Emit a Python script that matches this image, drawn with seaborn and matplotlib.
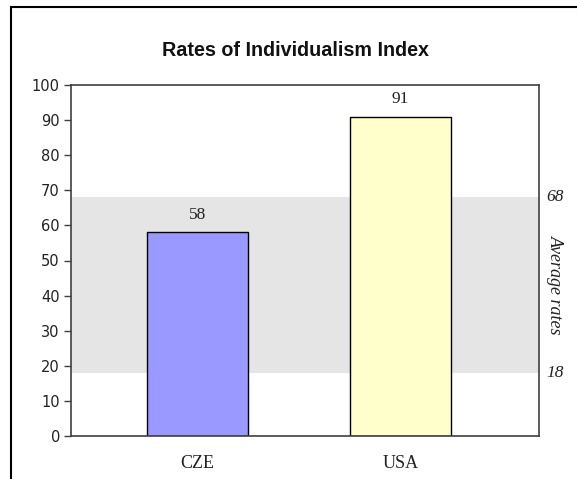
import matplotlib
matplotlib.use("Agg")
import matplotlib.pyplot as plt
import seaborn as sns
import pandas as pd
from matplotlib.patches import Rectangle
from matplotlib.transforms import blended_transform_factory

categories = ["CZE", "USA"]
values = [58, 91]
bar_colors = ["#9999FF", "#FFFFCC"]
band_low = 18
band_high = 68
band_label = "Average rates"
title = "Rates of Individualism Index"
yticks = [0, 10, 20, 30, 40, 50, 60, 70, 80, 90, 100]

sns.set_theme(style="white")
plt.rcParams['font.family'] = ['Liberation Sans', 'DejaVu Sans']

df = pd.DataFrame({"country": categories, "value": values})

fig = plt.figure(figsize=(5.77, 4.79), dpi=100)
ax = fig.add_axes([71/577, 1-436/479, (539-71)/577, (436-85)/479])

ax.axhspan(band_low, band_high, color="#E5E5E5", zorder=0, lw=0)

sns.barplot(data=df, x="country", y="value", hue="country", palette=bar_colors,
            saturation=1, width=0.5, edgecolor="black", linewidth=1, legend=False,
            ax=ax, zorder=2)

ax.set_xlim(-0.623, 1.682)
ax.set_ylim(0, 100)
ax.set_yticks(yticks)
ax.set_xlabel("")
ax.set_ylabel("")

for s in ax.spines.values():
    s.set_visible(True)
    s.set_color("#404040")
    s.set_linewidth(1.2)

ax.tick_params(axis="y", left=True, length=5, width=1, color="#404040",
               labelsize=11, labelcolor="#222222", pad=3)
ax.tick_params(axis="x", bottom=False, pad=8)
for lab in ax.get_xticklabels():
    lab.set_fontfamily("Liberation Serif")
    lab.set_fontsize(13)
    lab.set_color("#222222")
for lab in ax.get_yticklabels():
    lab.set_fontfamily("DejaVu Sans")
    lab.set_fontsize(10.5)

for i, v in enumerate(values):
    ax.annotate(str(v), (i, v), xytext=(0, 7), textcoords="offset points",
                ha="center", va="bottom", fontfamily="Liberation Serif",
                fontsize=12.5, color="#222222")

tr = blended_transform_factory(ax.transAxes, ax.transData)
for val in (band_high, band_low):
    ax.text(1.035, val, str(val), transform=tr, ha="center", va="center",
            fontfamily="Liberation Serif", style="italic", fontsize=12.5,
            color="#222222")
ax.text(1.035, (band_low + band_high) / 2, band_label, transform=tr, ha="center",
        va="center", rotation=270, fontfamily="Liberation Serif", style="italic",
        fontsize=13, color="#222222")

fig.text(296/577, 1-50/479, title, ha="center", va="center", fontsize=14.2,
         fontweight="bold", color="#111111")

fig.add_artist(Rectangle((11/577, -0.1), 1.2, 1 - 7/479 + 0.1, transform=fig.transFigure,
                         fill=False, edgecolor="black", linewidth=1.5))

fig.savefig("out.png", dpi=100, facecolor="white")
